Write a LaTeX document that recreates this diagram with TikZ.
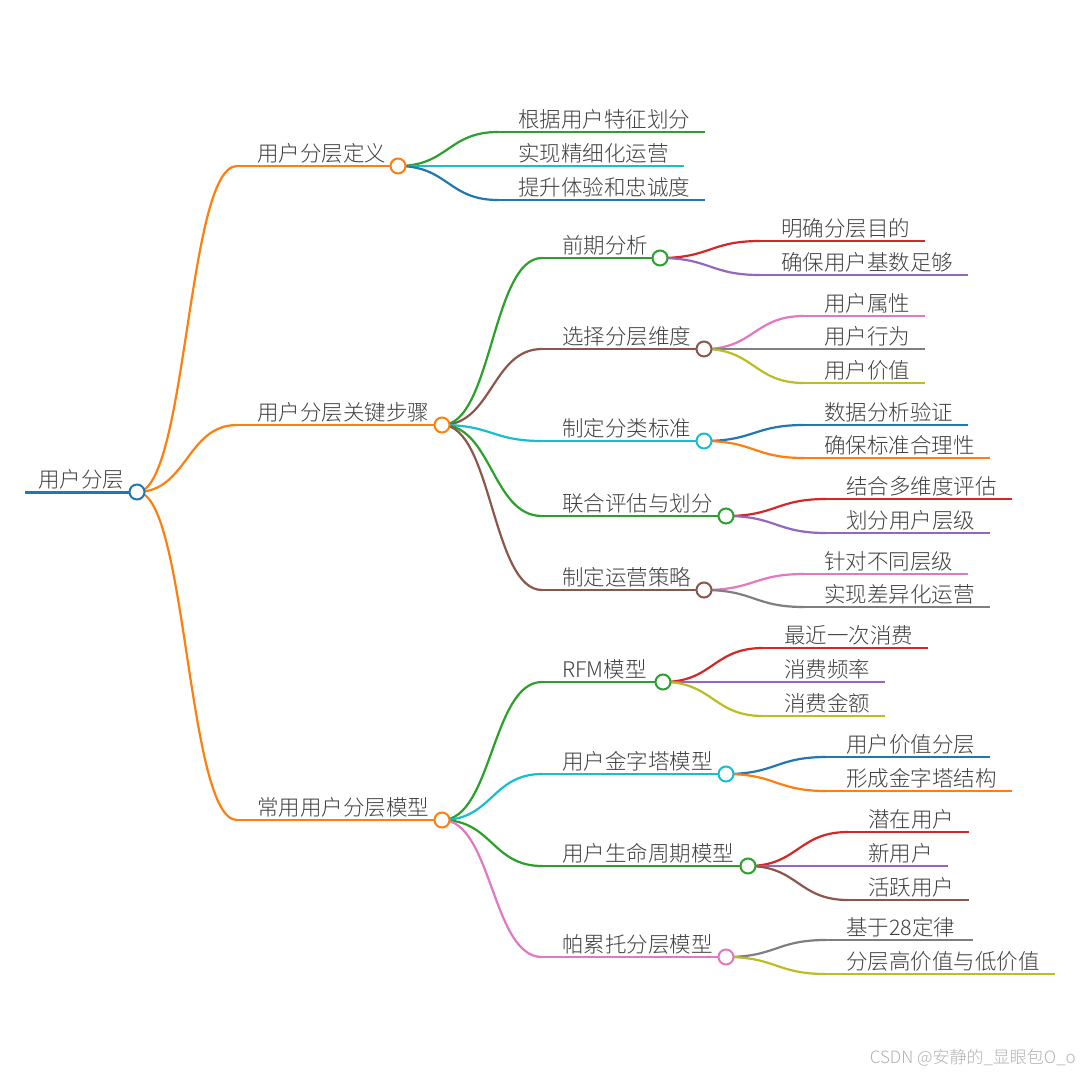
\documentclass[tikz,border=0pt]{standalone}
\usepackage{fontspec}
\setmainfont{Noto Sans CJK SC}[UprightFont={* Light}]
\usetikzlibrary{calc,positioning}
\definecolor{cBlue}{HTML}{1F77B4}
\definecolor{cOrange}{HTML}{FF7F0E}
\definecolor{cGreen}{HTML}{2CA02C}
\definecolor{cRed}{HTML}{D62728}
\definecolor{cPurple}{HTML}{9467BD}
\definecolor{cBrown}{HTML}{8C564B}
\definecolor{cPink}{HTML}{E377C2}
\definecolor{cGray}{HTML}{7F7F7F}
\definecolor{cOlive}{HTML}{BCBD22}
\definecolor{cCyan}{HTML}{17BECF}
\tikzstyle{topic}=[
  anchor=base west,
  inner sep=0pt,
  font={\fontsize{21.5}{26}\selectfont},
  text=black!75,
]
\tikzstyle{bar}=[
  line width=2.2pt,
]
\tikzstyle{link}=[
  line width=2.2pt,
]
\tikzstyle{knob}=[
  circle,
  fill=white,
  line width=2pt,
  minimum size=15pt,
  inner sep=0pt,
]
% horizontal-tangent curve from a parent knob to a child bar
\newcommand{\linkto}[3]{%
  \draw [link, #3] let \p1=(#1), \p2=(#2) in
    (\p1) .. controls ({(\x1+\x2)/2},\y1) and ({(\x1+\x2)/2},\y2) .. (\p2);}

\begin{document}
\begin{tikzpicture}[x=1pt,y=-1pt]
      \fill [white] (0,0) rectangle (1080,1080);
      \useasboundingbox (0,0) rectangle (1080,1080);
      %% root
      \coordinate (rootS) at (25,492);
      \coordinate (rootC) at (137,492);
      \node (root) [topic] at (38,487) {用户分层};
      \draw [bar, cBlue, line width=3pt] (rootS) -- (rootC);
      %% level 1
      \coordinate (defS) at (237,166);
      \coordinate (defC) at (398,166);
      \node (def) [topic] at (257,161) {用户分层定义};
      \coordinate (stepsS) at (237,425);
      \coordinate (stepsC) at (442,425);
      \node (steps) [topic] at (257,420) {用户分层关键步骤};
      \coordinate (modS) at (237,820);
      \coordinate (modC) at (442,820);
      \node (mod) [topic] at (257,815) {常用用户分层模型};
      \linkto{rootC}{defS}{cOrange}
      \linkto{rootC}{stepsS}{cOrange}
      \linkto{rootC}{modS}{cOrange}
      \draw [bar, cOrange] (defS) -- (defC);
      \draw [bar, cOrange] (stepsS) -- (stepsC);
      \draw [bar, cOrange] (modS) -- (modC);
      %% definition leaves
      \node (defA) [topic] at (518,127) {根据用户特征划分};
      \node (defB) [topic] at (518,161) {实现精细化运营};
      \node (defD) [topic] at (518,195) {提升体验和忠诚度};
      \coordinate (defAS) at (498,132);
      \coordinate (defBS) at (498,166);
      \coordinate (defDS) at (498,200);
      \linkto{defC}{defAS}{cGreen}
      \linkto{defC}{defBS}{cCyan}
      \linkto{defC}{defDS}{cBlue}
      \draw [bar, cGreen] (defAS) -- ($(defA.base east)+(15,5)$);
      \draw [bar, cCyan] (defBS) -- ($(defB.base east)+(15,5)$);
      \draw [bar, cBlue] (defDS) -- ($(defD.base east)+(15,5)$);
      %% key steps
      \coordinate (preS) at (542,258);
      \coordinate (preC) at (660,258);
      \node (pre) [topic] at (562,253) {前期分析};
      \coordinate (dimS) at (542,349);
      \coordinate (dimC) at (704,349);
      \node (dim) [topic] at (562,344) {选择分层维度};
      \coordinate (stdS) at (542,441);
      \coordinate (stdC) at (704,441);
      \node (std) [topic] at (562,436) {制定分类标准};
      \coordinate (evalS) at (542,516);
      \coordinate (evalC) at (726,516);
      \node (eval) [topic] at (562,511) {联合评估与划分};
      \coordinate (opsS) at (542,590);
      \coordinate (opsC) at (704,590);
      \node (ops) [topic] at (562,585) {制定运营策略};
      \linkto{stepsC}{preS}{cGreen}
      \linkto{stepsC}{dimS}{cBrown}
      \linkto{stepsC}{stdS}{cCyan}
      \linkto{stepsC}{evalS}{cGreen}
      \linkto{stepsC}{opsS}{cBrown}
      \draw [bar, cGreen] (preS) -- (preC);
      \draw [bar, cBrown] (dimS) -- (dimC);
      \draw [bar, cCyan] (stdS) -- (stdC);
      \draw [bar, cGreen] (evalS) -- (evalC);
      \draw [bar, cBrown] (opsS) -- (opsC);
      %% pre leaves
      \node (preA) [topic] at (781,236) {明确分层目的};
      \node (preB) [topic] at (781,270) {确保用户基数足够};
      \coordinate (preAS) at (760,241);
      \coordinate (preBS) at (760,275);
      \linkto{preC}{preAS}{cRed}
      \linkto{preC}{preBS}{cPurple}
      \draw [bar, cRed] (preAS) -- ($(preA.base east)+(15,5)$);
      \draw [bar, cPurple] (preBS) -- ($(preB.base east)+(15,5)$);
      %% dim leaves
      \node (dimA) [topic] at (824,311) {用户属性};
      \node (dimB) [topic] at (824,344) {用户行为};
      \node (dimD) [topic] at (824,378) {用户价值};
      \coordinate (dimAS) at (804,316);
      \coordinate (dimBS) at (804,349);
      \coordinate (dimDS) at (804,383);
      \linkto{dimC}{dimAS}{cPink}
      \linkto{dimC}{dimBS}{cGray}
      \linkto{dimC}{dimDS}{cOlive}
      \draw [bar, cPink] (dimAS) -- ($(dimA.base east)+(15,5)$);
      \draw [bar, cGray] (dimBS) -- ($(dimB.base east)+(15,5)$);
      \draw [bar, cOlive] (dimDS) -- ($(dimD.base east)+(15,5)$);
      %% std leaves
      \node (stdA) [topic] at (824,420) {数据分析验证};
      \node (stdB) [topic] at (824,453) {确保标准合理性};
      \coordinate (stdAS) at (804,425);
      \coordinate (stdBS) at (804,458);
      \linkto{stdC}{stdAS}{cBlue}
      \linkto{stdC}{stdBS}{cOrange}
      \draw [bar, cBlue] (stdAS) -- ($(stdA.base east)+(15,5)$);
      \draw [bar, cOrange] (stdBS) -- ($(stdB.base east)+(15,5)$);
      %% eval leaves
      \node (evalA) [topic] at (846,494) {结合多维度评估};
      \node (evalB) [topic] at (846,528) {划分用户层级};
      \coordinate (evalAS) at (826,499);
      \coordinate (evalBS) at (826,533);
      \linkto{evalC}{evalAS}{cRed}
      \linkto{evalC}{evalBS}{cPurple}
      \draw [bar, cRed] (evalAS) -- ($(evalA.base east)+(15,5)$);
      \draw [bar, cPurple] (evalBS) -- ($(evalB.base east)+(15,5)$);
      %% ops leaves
      \node (opsA) [topic] at (824,569) {针对不同层级};
      \node (opsB) [topic] at (824,602) {实现差异化运营};
      \coordinate (opsAS) at (804,574);
      \coordinate (opsBS) at (804,607);
      \linkto{opsC}{opsAS}{cPink}
      \linkto{opsC}{opsBS}{cGray}
      \draw [bar, cPink] (opsAS) -- ($(opsA.base east)+(15,5)$);
      \draw [bar, cGray] (opsBS) -- ($(opsB.base east)+(15,5)$);
      %% models
      \coordinate (rfmS) at (542,682);
      \coordinate (rfmC) at (663,682);
      \node (rfm) [topic] at (562,677) {RFM模型};
      \coordinate (pyrS) at (542,774);
      \coordinate (pyrC) at (726,774);
      \node (pyr) [topic] at (562,769) {用户金字塔模型};
      \coordinate (lifeS) at (542,866);
      \coordinate (lifeC) at (748,866);
      \node (life) [topic] at (562,861) {用户生命周期模型};
      \coordinate (parS) at (542,957);
      \coordinate (parC) at (726,957);
      \node (par) [topic] at (562,952) {帕累托分层模型};
      \linkto{modC}{rfmS}{cGreen}
      \linkto{modC}{pyrS}{cCyan}
      \linkto{modC}{lifeS}{cGreen}
      \linkto{modC}{parS}{cPink}
      \draw [bar, cGreen] (rfmS) -- (rfmC);
      \draw [bar, cCyan] (pyrS) -- (pyrC);
      \draw [bar, cGreen] (lifeS) -- (lifeC);
      \draw [bar, cPink] (parS) -- (parC);
      %% rfm leaves
      \node (rfmA) [topic] at (784,643) {最近一次消费};
      \node (rfmB) [topic] at (784,677) {消费频率};
      \node (rfmD) [topic] at (784,711) {消费金额};
      \coordinate (rfmAS) at (763,648);
      \coordinate (rfmBS) at (763,682);
      \coordinate (rfmDS) at (763,716);
      \linkto{rfmC}{rfmAS}{cRed}
      \linkto{rfmC}{rfmBS}{cPurple}
      \linkto{rfmC}{rfmDS}{cOlive}
      \draw [bar, cRed] (rfmAS) -- ($(rfmA.base east)+(15,5)$);
      \draw [bar, cPurple] (rfmBS) -- ($(rfmB.base east)+(15,5)$);
      \draw [bar, cOlive] (rfmDS) -- ($(rfmD.base east)+(15,5)$);
      %% pyramid leaves
      \node (pyrA) [topic] at (846,752) {用户价值分层};
      \node (pyrB) [topic] at (846,786) {形成金字塔结构};
      \coordinate (pyrAS) at (826,757);
      \coordinate (pyrBS) at (826,791);
      \linkto{pyrC}{pyrAS}{cBlue}
      \linkto{pyrC}{pyrBS}{cOrange}
      \draw [bar, cBlue] (pyrAS) -- ($(pyrA.base east)+(15,5)$);
      \draw [bar, cOrange] (pyrBS) -- ($(pyrB.base east)+(15,5)$);
      %% life cycle leaves
      \node (lifeA) [topic] at (868,827) {潜在用户};
      \node (lifeB) [topic] at (868,861) {新用户};
      \node (lifeD) [topic] at (868,895) {活跃用户};
      \coordinate (lifeAS) at (848,832);
      \coordinate (lifeBS) at (848,866);
      \coordinate (lifeDS) at (848,900);
      \linkto{lifeC}{lifeAS}{cRed}
      \linkto{lifeC}{lifeBS}{cPurple}
      \linkto{lifeC}{lifeDS}{cBrown}
      \draw [bar, cRed] (lifeAS) -- ($(lifeA.base east)+(15,5)$);
      \draw [bar, cPurple] (lifeBS) -- ($(lifeB.base east)+(15,5)$);
      \draw [bar, cBrown] (lifeDS) -- ($(lifeD.base east)+(15,5)$);
      %% pareto leaves
      \node (parA) [topic] at (846,935) {基于28定律};
      \node (parB) [topic] at (846,969) {分层高价值与低价值};
      \coordinate (parAS) at (826,940);
      \coordinate (parBS) at (826,974);
      \linkto{parC}{parAS}{cGray}
      \linkto{parC}{parBS}{cOlive}
      \draw [bar, cGray] (parAS) -- ($(parA.base east)+(18,5)$);
      \draw [bar, cOlive] (parBS) -- ($(parB.base east)+(15,5)$);
      %% knobs on top
      \node (rootK) [knob, draw=cBlue] at (rootC) {};
      \node (defK) [knob, draw=cOrange] at (defC) {};
      \node (stepsK) [knob, draw=cOrange] at (stepsC) {};
      \node (modK) [knob, draw=cOrange] at (modC) {};
      \node (preK) [knob, draw=cGreen] at (preC) {};
      \node (dimK) [knob, draw=cBrown] at (dimC) {};
      \node (stdK) [knob, draw=cCyan] at (stdC) {};
      \node (evalK) [knob, draw=cGreen] at (evalC) {};
      \node (opsK) [knob, draw=cBrown] at (opsC) {};
      \node (rfmK) [knob, draw=cGreen] at (rfmC) {};
      \node (pyrK) [knob, draw=cCyan] at (pyrC) {};
      \node (lifeK) [knob, draw=cGreen] at (lifeC) {};
      \node (parK) [knob, draw=cPink] at (parC) {};
      %% watermark
      \node (mark) [anchor=east, inner sep=0pt, font={\fontsize{17}{20}\selectfont}, text=black!30] at (1076,1058) {CSDN @安静的\_显眼包O\_o};
\end{tikzpicture}
\end{document}
